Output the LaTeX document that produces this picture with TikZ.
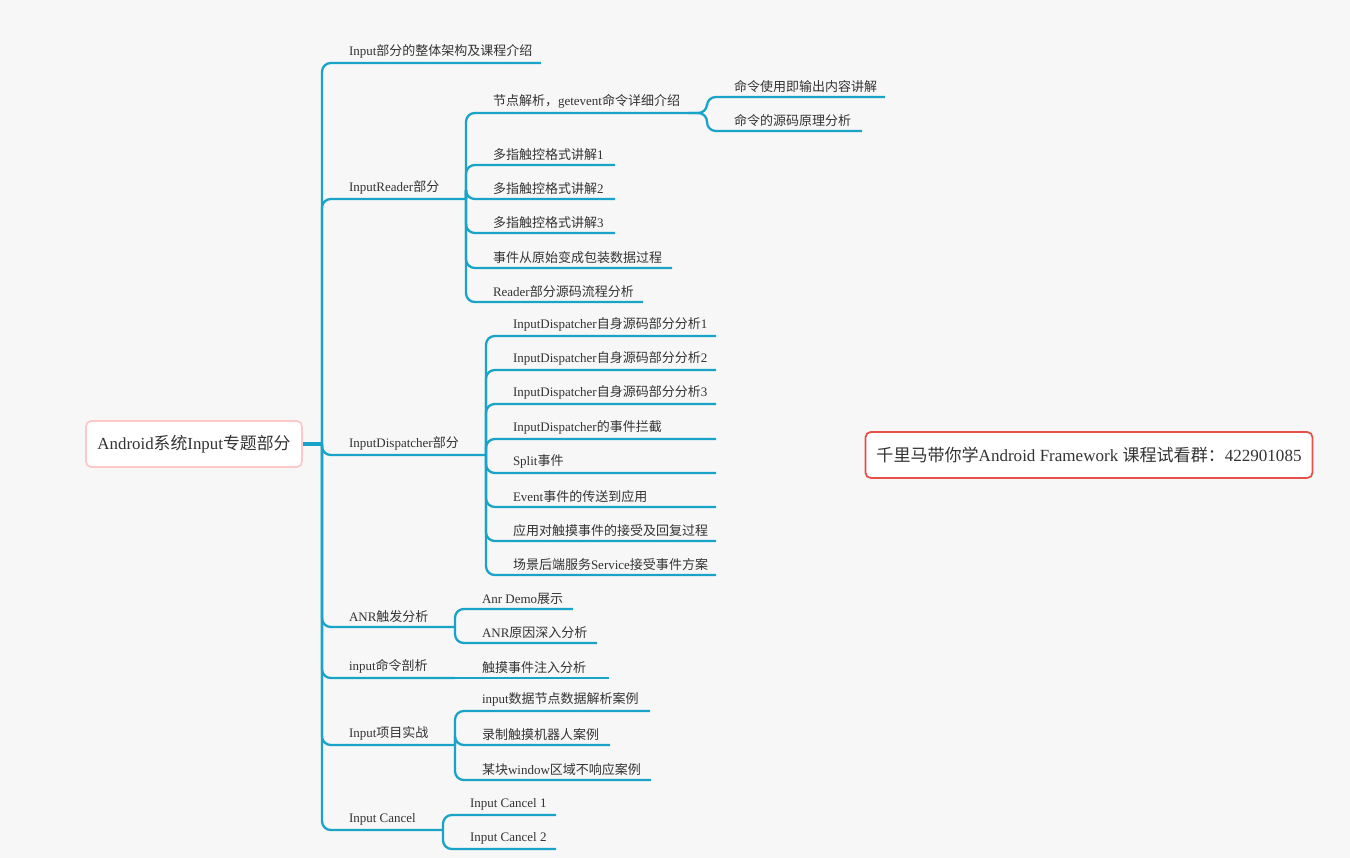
\documentclass[tikz,border=0pt]{standalone}
\usepackage{fontspec}
\setmainfont{Liberation Serif}
\newfontfamily\cjk{Noto Sans CJK SC}
\XeTeXinterchartokenstate=1
\newXeTeXintercharclass\CJKcls
\count255="4E00
\loop \XeTeXcharclass\count255=\CJKcls \ifnum\count255<"9FFF \advance\count255 by 1 \repeat
\XeTeXcharclass"FF0C=\CJKcls
\XeTeXcharclass"FF1A=\CJKcls
\XeTeXinterchartoks 0 \CJKcls = {\begingroup\cjk}
\XeTeXinterchartoks 4095 \CJKcls = {\begingroup\cjk}
\XeTeXinterchartoks \CJKcls 0 = {\endgroup}
\XeTeXinterchartoks \CJKcls 4095 = {\endgroup}
\usetikzlibrary{positioning}
\definecolor{linkc}{HTML}{1AA3C8}
\definecolor{txt}{HTML}{333333}
\tikzset{
  link/.style={draw=linkc, line width=1.3pt, rounded corners=5},
  leaf/.style={anchor=south west, inner xsep=0, inner ysep=2.5, outer sep=0, text=txt, font=\fontsize{7.4}{9}\selectfont},
}
\begin{document}
\begin{tikzpicture}[x=0.02cm, y=-0.02cm]
\fill[color={rgb,255:red,247;green,247;blue,247}] (0,0) rectangle (1350,858);
\useasboundingbox (0,0) rectangle (1350,858);

% root and note
\node[draw={rgb,255:red,255;green,200;blue,200}, fill=white, line width=1pt, rounded corners=3, minimum width=216*0.02cm, minimum height=46*0.02cm, text=txt, font=\fontsize{9.6}{11}\selectfont] (root) at (194,444) {Android系统Input专题部分};
\node[draw={rgb,255:red,230;green,80;blue,70}, fill=white, line width=1pt, rounded corners=3, minimum width=447*0.02cm, minimum height=46*0.02cm, text=txt, font=\fontsize{9.7}{11}\selectfont] (note) at (1089,455) {千里马带你学Android Framework 课程试看群：422901085};

% trunk
\coordinate (trunk) at (322,444);
\draw[link, line width=2pt, rounded corners=0] (root.east) -- (trunk);
\foreach \n/\y/\e/\t in {
  whole/63/541/Input部分的整体架构及课程介绍,
  reader/199/466/InputReader部分,
  disp/455/486/InputDispatcher部分,
  anr/627/455/ANR触发分析,
  cmd/678/455/input命令剖析,
  proj/745/455/Input项目实战,
  cancel/830/443/Input Cancel}
{
  \node[leaf] (\n) at (349,\y) {\t};
  \draw[link] (trunk) |- (\n.south west) -- (\e,\y) coordinate (\n end);
}

% InputReader
\foreach \n/\y/\e/\t in {
  getev/113/688/节点解析，getevent命令详细介绍,
  multa/165/615/多指触控格式讲解1,
  multb/199/615/多指触控格式讲解2,
  multc/233/615/多指触控格式讲解3,
  wrap/268/672/事件从原始变成包装数据过程,
  rsrc/302/643/Reader部分源码流程分析}
{
  \node[leaf] (\n) at (493,\y) {\t};
  \draw[link] (readerend) -- (466,199) |- (\n.south west) -- (\e,\y);
}
\foreach \n/\y/\e/\t in {
  cmduse/97/885/命令使用即输出内容讲解,
  cmdsrc/131/862/命令的源码原理分析}
{
  \node[leaf] (\n) at (734,\y) {\t};
  \draw[link] (688,113) -- (707,113) |- (\n.south west) -- (\e,\y);
}

% InputDispatcher
\foreach \n/\y/\t in {
  dsa/336/InputDispatcher自身源码部分分析1,
  dsb/370/InputDispatcher自身源码部分分析2,
  dsc/404/InputDispatcher自身源码部分分析3,
  dint/439/InputDispatcher的事件拦截,
  split/473/Split事件,
  evt/507/Event事件的传送到应用,
  app/541/应用对触摸事件的接受及回复过程,
  svc/575/场景后端服务Service接受事件方案}
{
  \node[leaf] (\n) at (513,\y) {\t};
  \draw[link] (dispend) |- (\n.south west) -- (716,\y);
}

% ANR
\foreach \n/\y/\e/\t in {
  demo/609/573/Anr Demo展示,
  cause/643/597/ANR原因深入分析}
{
  \node[leaf] (\n) at (482,\y) {\t};
  \draw[link] (anrend) |- (\n.south west) -- (\e,\y);
}

% input command
\node[leaf] (inj) at (482,678) {触摸事件注入分析};
\draw[link] (cmdend) -- (inj.south west) -- (609,678);

% project
\foreach \n/\y/\e/\t in {
  node/711/650/input数据节点数据解析案例,
  robot/745/610/录制触摸机器人案例,
  win/780/651/某块window区域不响应案例}
{
  \node[leaf] (\n) at (482,\y) {\t};
  \draw[link] (projend) |- (\n.south west) -- (\e,\y);
}

% cancel
\foreach \n/\y/\t in {
  cana/815/Input Cancel 1,
  canb/849/Input Cancel 2}
{
  \node[leaf] (\n) at (470,\y) {\t};
  \draw[link] (cancelend) |- (\n.south west) -- (556,\y);
}
\end{tikzpicture}
\end{document}
